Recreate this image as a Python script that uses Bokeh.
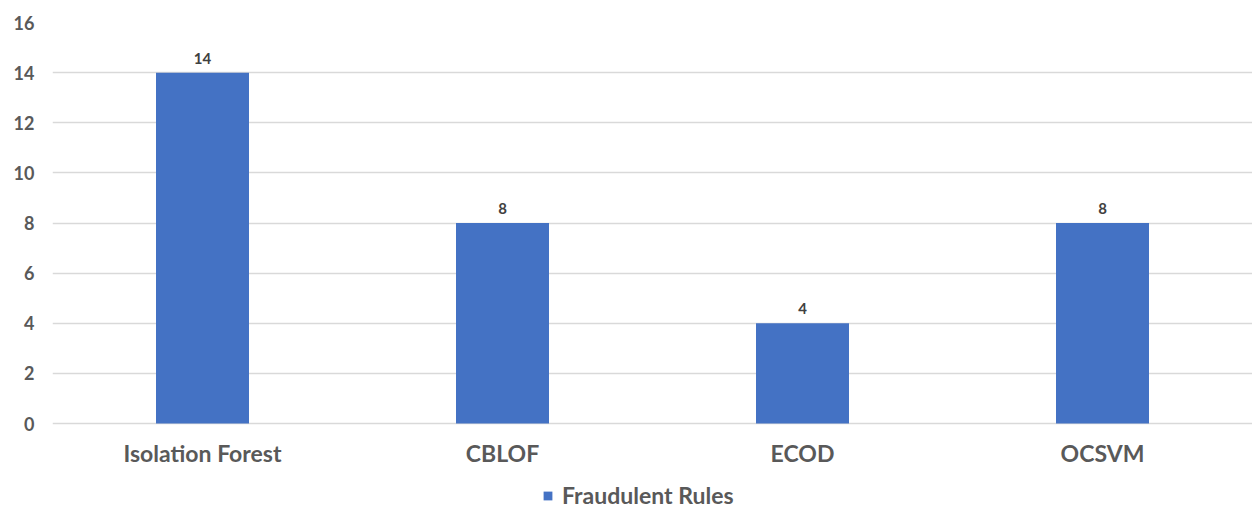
from bokeh.plotting import figure
from bokeh.models import ColumnDataSource, Legend, LegendItem, LabelSet, FixedTicker, Range1d
from bokeh.core.properties import value
from bokeh.embed import file_html
from bokeh.resources import INLINE

# Rule counts per detector
methods = ["Isolation Forest", "CBLOF", "ECOD", "OCSVM"]
fraud_rules = [14, 8, 4, 8]
y_ticks = [0, 2, 4, 6, 8, 10, 12, 14, 16]

src = ColumnDataSource(dict(
    method=methods,
    rules=fraud_rules,
    label=[str(v) for v in fraud_rules],
    zero=[0] * len(methods),
))

FONT = "Lato"
GREY = "#595959"

W, H = 1252, 509
TOP = 22          # space above the value 16
PLOT_H = 401      # pixels from 0 to 16
Y_MAX = 16
# the frame runs to the bottom of the canvas so that the category labels and
# the legend can sit underneath the zero line
y_min = -Y_MAX * (H - TOP - PLOT_H) / PLOT_H

p = figure(
    x_range=methods, y_range=Range1d(y_min, Y_MAX),
    width=W, height=H, x_axis_location=None,
    output_backend="svg", toolbar_location=None,
    min_border_left=52, min_border_right=0,
    min_border_top=TOP, min_border_bottom=0,
)
p.outline_line_color = None
p.background_fill_color = "white"

bars = p.vbar(x="method", top="rules", width=0.31, source=src,
              fill_color="#4472C4", line_color=None)

# value labels on top of each bar
p.add_layout(LabelSet(x="method", y="rules", text="label", source=src,
                      x_offset=0, y_offset=9, text_align="center",
                      text_baseline="bottom", text_font=value(FONT),
                      text_font_style="bold", text_font_size="15px",
                      text_color="#404040"))

# category names under the zero line
p.text(x="method", y="zero", text="method", source=src,
       y_offset=29, text_align="center", text_baseline="middle",
       text_font=value(FONT), text_font_size="23px",
       text_font_style="bold", text_color=GREY)

# y axis
p.yaxis.ticker = FixedTicker(ticks=y_ticks)
p.yaxis.axis_line_color = None
p.yaxis.major_tick_line_color = None
p.yaxis.minor_tick_line_color = None
p.yaxis.major_label_text_font = FONT
p.yaxis.major_label_text_font_style = "bold"
p.yaxis.major_label_text_font_size = "18px"
p.yaxis.major_label_text_color = GREY
p.yaxis.major_label_standoff = 12

p.xgrid.grid_line_color = None
p.ygrid.grid_line_color = "#d9d9d9"
p.ygrid.grid_line_width = 1.5

legend = Legend(items=[LegendItem(label="Fraudulent Rules", renderers=[bars])],
                location=(490, 0), orientation="horizontal",
                background_fill_alpha=0, border_line_color=None,
                label_text_font=FONT, label_text_font_style="bold",
                label_text_font_size="23px", label_text_color=GREY,
                glyph_width=11, glyph_height=11, padding=0, margin=0,
                label_standoff=9, label_height=24)
p.add_layout(legend, "center")

open("out.html", "w").write(file_html(p, INLINE))
